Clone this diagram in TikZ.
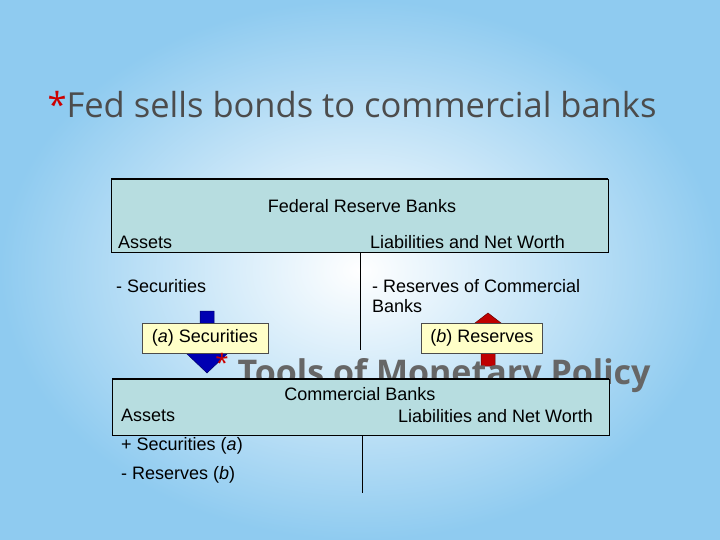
\documentclass[tikz,border=0pt]{standalone}
\usepackage{fontspec}
\setmainfont{Liberation Sans}
\newfontfamily\titlefont{Open Sans}
\definecolor{tealbox}{HTML}{B7DDE0}
\definecolor{bgblue}{HTML}{8FCBF0}
\definecolor{lab}{HTML}{FFFFC8}
\begin{document}
\begin{tikzpicture}[x=1pt,y=-1pt,
  hdr/.style={draw=black,fill=tealbox,line width=0.6pt},
  txt/.style={font=\fontsize{18}{20}\selectfont,inner sep=0pt,anchor=west},
  labbox/.style={draw=black!70,fill=lab,font=\fontsize{18}{20}\selectfont,minimum height=30pt,inner sep=3pt},
  bluearrow/.style={draw=blue!40!black,fill=blue!70!black,line width=0.5pt},
  redarrow/.style={draw=red!40!black,fill=red!75!black,line width=0.5pt}]
\shade[inner color=white,outer color=bgblue] (0,0) rectangle (720,540);
\useasboundingbox (0,0) rectangle (720,540);
\node[anchor=west,text=black!70,font=\titlefont\fontsize{34.5}{38}\selectfont] (title) at (44,105) {\textcolor{red!80!black}{*}Fed sells bonds to commercial banks};
% top T-account
\path[hdr] (111,179) rectangle (608,252);
\draw[line width=2pt] (111,179) -- (608,179);
\node[font=\fontsize{18}{20}\selectfont] (frb) at (362,206) {Federal Reserve Banks};
\node[txt] (a1) at (118,242) {Assets};
\node[txt] (l1) at (370,242) {Liabilities and Net Worth};
\draw[line width=1pt] (360,252) -- (360,350);
\node[txt] (s1) at (116,286) {- Securities};
\node[txt,align=left] (r1) at (372,296) {- Reserves of Commercial\\Banks};
% arrows
\path[bluearrow] (200,311) -- (214,311) -- (214,353) -- (228,353) -- (207,373) -- (186,353) -- (200,353) -- cycle;
\path[redarrow] (481,366) -- (495,366) -- (495,330) -- (510,330) -- (488,313) -- (466,330) -- (481,330) -- cycle;
\node[labbox,minimum width=126pt] (la) at (205,338) {(\textit{a}) Securities};
\node[labbox,minimum width=121pt] (lb) at (482,338) {(\textit{b}) Reserves};
% partly hidden title
\node[anchor=west,text=black!60,font=\titlefont\bfseries\fontsize{34}{38}\selectfont] (tools) at (234,376) {Tools of Monetary Policy};
\node[text=red!80!black,font=\titlefont\fontsize{24}{24}\selectfont] (ast) at (222,362) {*};
% bottom T-account
\path[hdr] (112,379) rectangle (609,435);
\draw[line width=2pt] (112,379) -- (609,379);
\node[font=\fontsize{18}{20}\selectfont] (cb) at (360,394) {Commercial Banks};
\node[txt] (a2) at (121,415) {Assets};
\node[txt] (l2) at (398,416) {Liabilities and Net Worth};
\draw[line width=1pt] (362,435) -- (362,493);
\node[txt] (s2) at (121,446) {+ Securities (\textit{a})};
\node[txt] (r2) at (121,475) {- Reserves (\textit{b})};
\end{tikzpicture}
\end{document}
